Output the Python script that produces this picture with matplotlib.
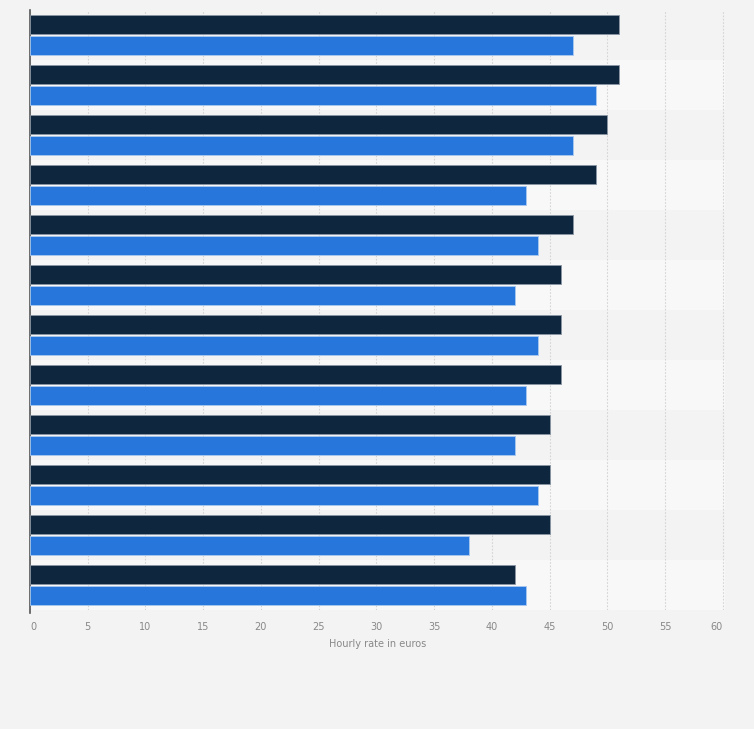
import numpy as np
import matplotlib.pyplot as plt

# values, top row first
dark_vals = [51, 51, 50, 49, 47, 46, 46, 46, 45, 45, 45, 42]
blue_vals = [47, 49, 47, 43, 44, 42, 44, 43, 42, 44, 38, 43]
x_ticks = [0, 5, 10, 15, 20, 25, 30, 35, 40, 45, 50, 55, 60]

fig = plt.figure(figsize=(7.54, 7.29), dpi=100)
fig.patch.set_facecolor('#f3f3f3')
ax = fig.add_axes([30 / 754, 1 - 610 / 729, 695 / 754, 600 / 729])
ax.set_facecolor('#f3f3f3')

n = len(dark_vals)
y = np.arange(n)

# alternating row bands
for i in range(n):
    if i % 2 == 1:
        ax.axhspan(i - 0.5, i + 0.5, color='#f8f8f8', zorder=0, lw=0)

ax.barh(y - 0.21, dark_vals, height=0.38, color='#0f263f', edgecolor='#8a96a3',
        linewidth=0.6, zorder=3)
ax.barh(y + 0.21, blue_vals, height=0.38, color='#2776dc', edgecolor='#a9c9f0',
        linewidth=0.6, zorder=3)

ax.set_xlim(0, 60.2)
ax.set_ylim(n - 0.5, -0.5)
ax.set_xticks(x_ticks)
ax.set_xticklabels([str(t) for t in x_ticks], color='#888888', fontsize=7)
ax.get_xticklabels()[0].set_ha('left')
ax.get_xticklabels()[-1].set_ha('right')
ax.set_yticks([])
ax.tick_params(axis='x', length=0, pad=9)
ax.xaxis.grid(True, linestyle=(0, (1.5, 1.5)), color='#d4d4d4', linewidth=0.8, zorder=1)
ax.set_axisbelow(True)

for s in ['top', 'right', 'bottom']:
    ax.spines[s].set_visible(False)
ax.spines['left'].set_color('#555555')
ax.spines['left'].set_linewidth(1.2)
ax.spines['left'].set_bounds(n - 0.45, -0.5)

ax.set_xlabel('Hourly rate in euros', color='#888888', fontsize=7, labelpad=5)

fig.savefig('out.png', dpi=100, facecolor=fig.get_facecolor())
